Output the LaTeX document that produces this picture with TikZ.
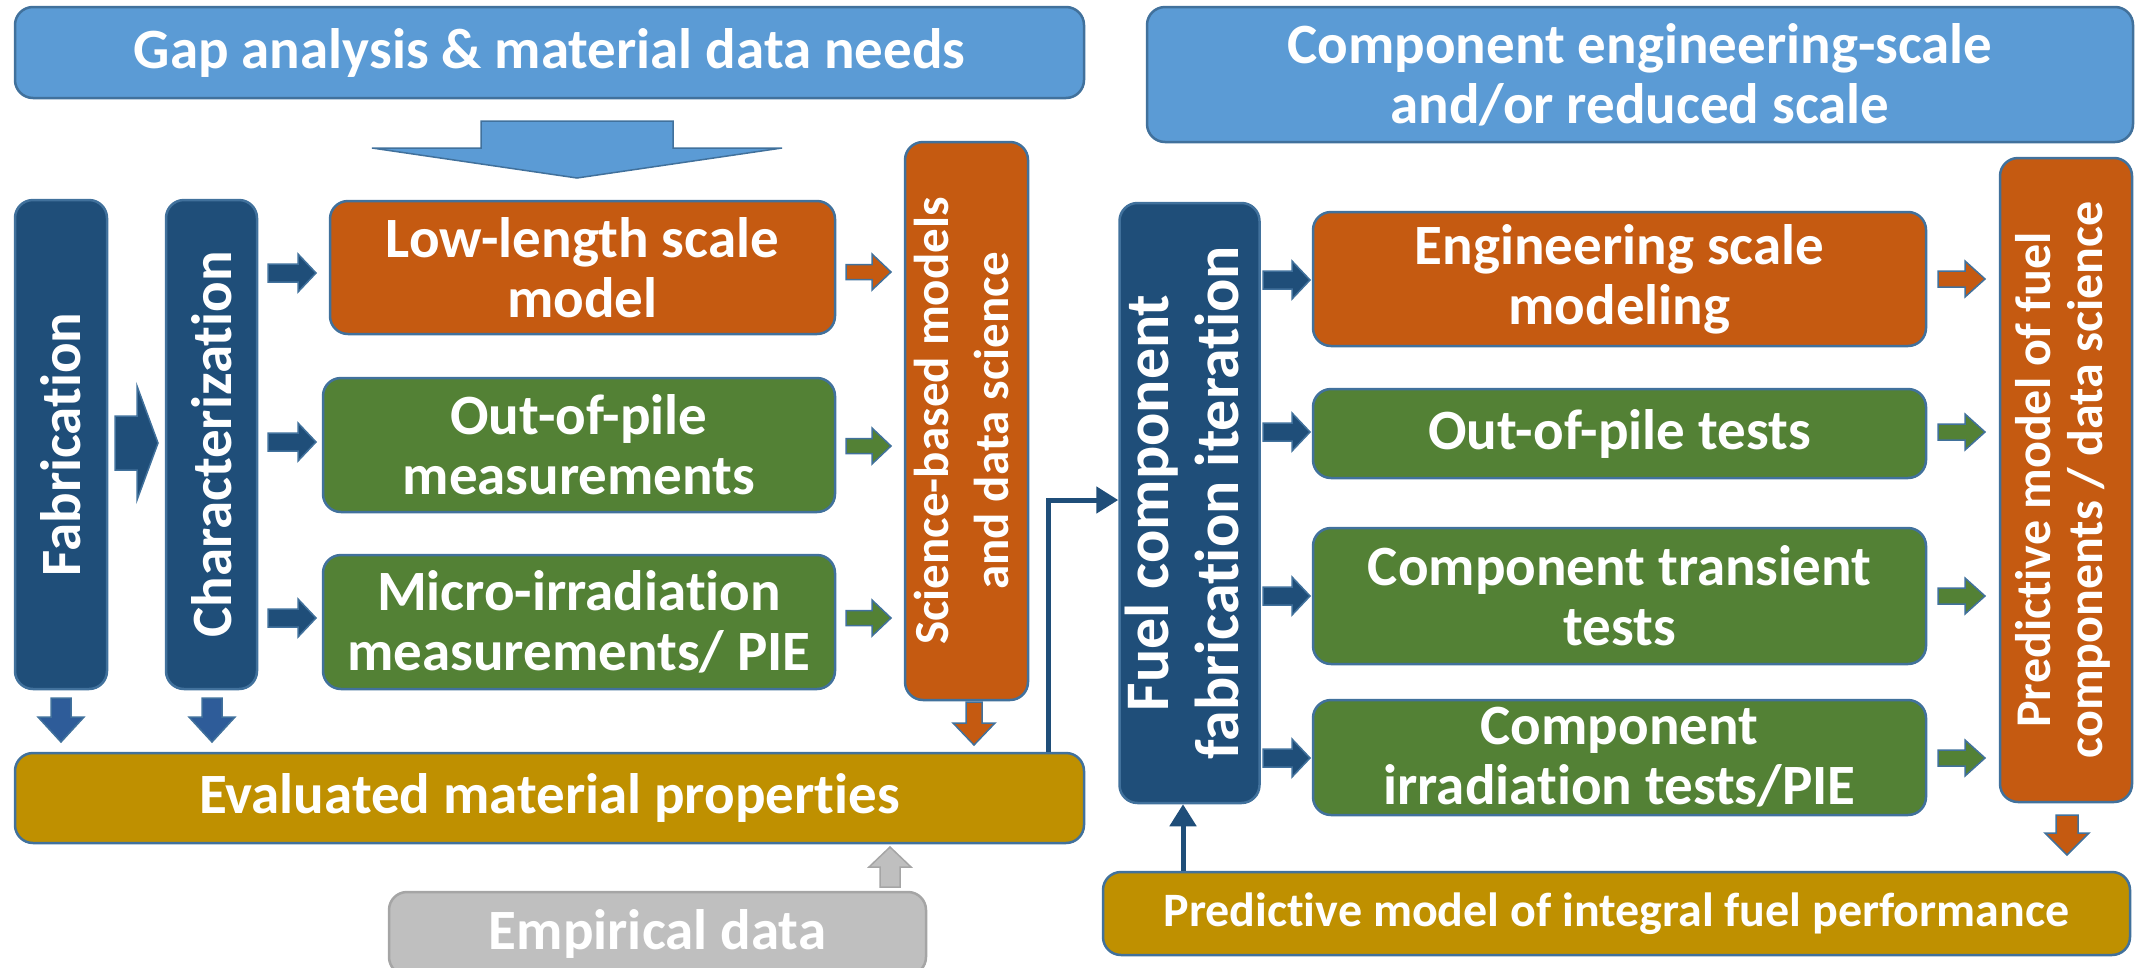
\documentclass[tikz,border=0pt]{standalone}
\usepackage{fontspec}
\usepackage{graphicx}
\setmainfont{Carlito}[Ligatures=CommonOff]
\usetikzlibrary{arrows.meta,calc}
\definecolor{lblue}{HTML}{5B9BD5}
\definecolor{bord}{HTML}{41719C}
\definecolor{navy}{HTML}{1F4E79}
\definecolor{midblue}{HTML}{2E5C99}
\definecolor{orng}{HTML}{C55A11}
\definecolor{grn}{HTML}{538135}
\definecolor{gold}{HTML}{BF9000}
\definecolor{lgray}{HTML}{BFBFBF}
\definecolor{dgray}{HTML}{A5A5A5}
\newcommand{\fs}[2]{\fontsize{#1}{#2}\selectfont\bfseries}
\newcommand{\boxnode}[7]{\node[#2, minimum width={#5-#3}, minimum height={#6-#4}] (#1) at ({(#3+#5)/2},{(#4+#6)/2}) {#7};}
% horizontal block arrow: style, x0, xtip, y, shaft half, head half, head length
\newcommand{\harr}[7]{\path[#1] (#2,{#4-#5}) -- ({#3-(#7)},{#4-#5}) -- ({#3-(#7)},{#4-#6}) -- (#3,#4) -- ({#3-(#7)},{#4+#6}) -- ({#3-(#7)},{#4+#5}) -- (#2,{#4+#5}) -- cycle;}
% vertical block arrow: style, x, y0, ytip, shaft half, head half, head length (signed)
\newcommand{\varr}[7]{\path[#1] ({#2-#5},#3) -- ({#2-#5},{#4-(#7)}) -- ({#2-#6},{#4-(#7)}) -- (#2,#4) -- ({#2+#6},{#4-(#7)}) -- ({#2+#5},{#4-(#7)}) -- ({#2+#5},#3) -- cycle;}
\tikzset{
  box/.style={draw=bord, line width=2.5pt, rounded corners=18pt, text=white, align=center, inner sep=0pt, font=\fs{57}{60}},
  hdr/.style={box, fill=lblue},
  navybox/.style={box, fill=navy},
  orbox/.style={box, fill=orng},
  grbox/.style={box, fill=grn},
  gdbox/.style={box, fill=gold},
  gybox/.style={box, fill=lgray, draw=dgray},
  arnavy/.style={fill=navy, draw=bord, line width=1.5pt},
  armid/.style={fill=midblue, draw=bord, line width=1.5pt},
  arorng/.style={fill=orng, draw=bord, line width=1.5pt},
  argrn/.style={fill=grn, draw=bord, line width=1.5pt},
  arhdr/.style={fill=lblue, draw=bord, line width=1.5pt},
  argray/.style={fill=lgray, draw=dgray, line width=1.5pt},
  conn/.style={draw=navy, line width=5pt, -{Triangle[length=22pt,width=26pt]}}
}
\begin{document}
\begin{tikzpicture}[x=1pt,y=-1pt]
\path[use as bounding box] (0,0) rectangle (2141,967);
\clip (0,0) rectangle (2141,967);
% left half
\boxnode{gap}{hdr}{15}{7}{1084}{98}{Gap analysis \& material data needs}
\boxnode{fab}{navybox}{15}{200}{107}{689}{\rotatebox{90}{\fs{57}{60}Fabrication}}
\boxnode{char}{navybox}{166}{200}{257}{689}{\rotatebox{90}{\fs{57}{60}Characterization}}
\boxnode{low}{orbox}{330}{201}{835}{334}{Low-length scale\\model}
\boxnode{oop}{grbox}{323}{378}{835}{512}{Out-of-pile\\measurements}
\boxnode{micro}{grbox}{323}{555}{835}{689}{Micro-irradiation\\measurements/ PIE}
\boxnode{sci}{orbox}{905}{142}{1028}{700}{\rotatebox{90}{\fs{49}{60}\begin{tabular}{@{}c@{}}Science-based models\\and data science\end{tabular}}}
\boxnode{evap}{gdbox}{15}{753}{1084}{843}{Evaluated material properties}
\boxnode{emp}{gybox}{389}{892}{926}{975}{Empirical data}
% right half
\boxnode{comp}{hdr}{1147}{7}{2133}{142}{Component engineering-scale\\and/or reduced scale}
\boxnode{fuel}{navybox}{1122}{203}{1257}{803}{\rotatebox{90}{\fs{62}{70}\begin{tabular}{@{}c@{}}Fuel component\\fabrication iteration\end{tabular}}}
\boxnode{eng}{orbox}{1313}{212}{1926}{346}{Engineering scale\\modeling}
\boxnode{oopt}{grbox}{1313}{389}{1926}{478}{Out-of-pile tests}
\boxnode{trans}{grbox}{1313}{528}{1926}{664}{Component transient\\tests}
\boxnode{irr}{grbox}{1313}{700}{1926}{815}{Component\\irradiation tests/PIE}
\boxnode{pred}{orbox}{2000}{158}{2132}{802}{\rotatebox{90}{\fs{50}{52}\begin{tabular}{@{}c@{}}Predictive model of fuel\\components / data science\end{tabular}}}
\boxnode{integ}{gdbox}{1103}{872}{2130}{955}{\fs{48}{52}Predictive model of integral fuel performance}
% block arrows
\varr{arhdr}{577}{121}{178}{96}{205}{30}
\harr{arnavy}{115}{158}{443}{27}{57}{21}
\foreach \y in {273,442,618}{\harr{arnavy}{268}{316}{\y}{9}{19}{18}}
\harr{arorng}{846}{891}{272}{7.5}{18}{19}
\harr{argrn}{846}{891}{446}{7.5}{18}{19}
\harr{argrn}{846}{891}{618}{7.5}{18}{19}
\varr{armid}{61}{698}{742}{10}{23}{25}
\varr{armid}{212}{698}{742}{10}{23}{25}
\varr{arorng}{974}{702}{745}{8}{21}{22}
\varr{argray}{890}{887}{847}{10}{21}{-20}
\foreach \y in {280,432,596,758}{\harr{arnavy}{1263}{1310}{\y}{9}{19}{18}}
\harr{arorng}{1938}{1985}{279}{8}{18}{20}
\foreach \y in {432,596,758}{\harr{argrn}{1938}{1985}{\y}{8}{18}{20}}
\varr{arorng}{2067}{815}{855}{11}{22}{22}
% connectors
\coordinate (lj) at (1048,500);
\coordinate (ua) at (1183,0);
\draw[conn] (evap.north -| lj) |- (fuel.west |- lj);
\draw[conn] (integ.north -| ua) -- (fuel.south -| ua);
\end{tikzpicture}
\end{document}
